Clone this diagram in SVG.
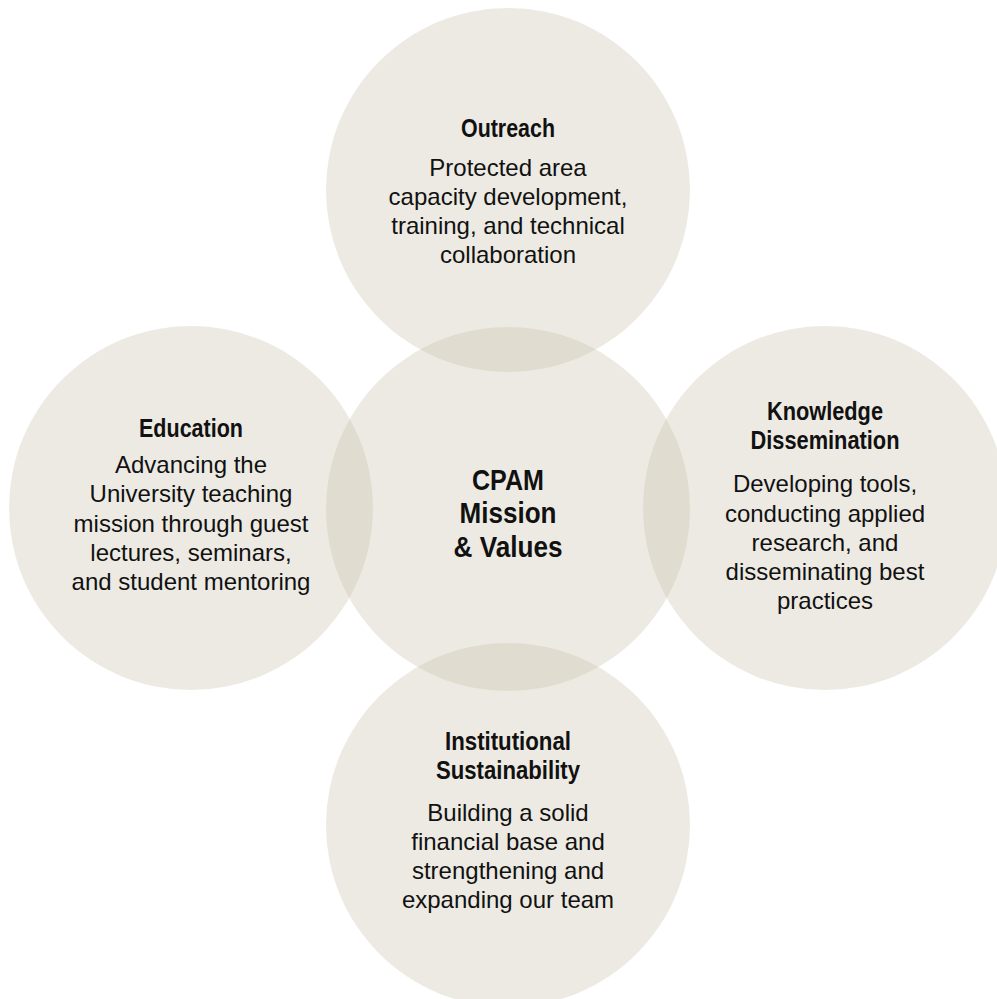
<svg xmlns="http://www.w3.org/2000/svg" width="997" height="999" viewBox="0 0 997 999">
<style>
.c{fill:#C9C0AB;fill-opacity:0.33}
.t{font-family:"Liberation Sans",Arial,sans-serif;font-weight:bold;font-size:26px;fill:#111;text-anchor:middle}
.m{font-family:"Liberation Sans",Arial,sans-serif;font-weight:bold;font-size:30px;fill:#111;text-anchor:middle}
.b{font-family:"Liberation Sans",Arial,sans-serif;font-size:24px;fill:#111;text-anchor:middle}
</style>
<rect width="997" height="999" fill="#fff"/>
<g id="connectors"/>
<g id="outreach">
<circle class="c" cx="508" cy="190" r="182"/>
<text class="t" x="508" y="137" textLength="94" lengthAdjust="spacingAndGlyphs">Outreach</text>
<text class="b" x="508" y="176">Protected area</text>
<text class="b" x="508" y="205">capacity development,</text>
<text class="b" x="508" y="234">training, and technical</text>
<text class="b" x="508" y="263">collaboration</text>
</g>
<g id="education">
<circle class="c" cx="191" cy="508" r="182"/>
<text class="t" x="191" y="437" textLength="104" lengthAdjust="spacingAndGlyphs">Education</text>
<text class="b" x="191" y="473">Advancing the</text>
<text class="b" x="191" y="502">University teaching</text>
<text class="b" x="191" y="532">mission through guest</text>
<text class="b" x="191" y="561">lectures, seminars,</text>
<text class="b" x="191" y="590">and student mentoring</text>
</g>
<g id="knowledge">
<circle class="c" cx="825" cy="508" r="182"/>
<text class="t" x="825" y="420" textLength="116" lengthAdjust="spacingAndGlyphs">Knowledge</text>
<text class="t" x="825" y="449" textLength="149" lengthAdjust="spacingAndGlyphs">Dissemination</text>
<text class="b" x="825" y="492">Developing tools,</text>
<text class="b" x="825" y="522">conducting applied</text>
<text class="b" x="825" y="551">research, and</text>
<text class="b" x="825" y="580">disseminating best</text>
<text class="b" x="825" y="609">practices</text>
</g>
<g id="sustainability">
<circle class="c" cx="508" cy="825" r="182"/>
<text class="t" x="508" y="750" textLength="126" lengthAdjust="spacingAndGlyphs">Institutional</text>
<text class="t" x="508" y="779" textLength="144" lengthAdjust="spacingAndGlyphs">Sustainability</text>
<text class="b" x="508" y="821">Building a solid</text>
<text class="b" x="508" y="850">financial base and</text>
<text class="b" x="508" y="879">strengthening and</text>
<text class="b" x="508" y="908">expanding our team</text>
</g>
<g id="mission">
<circle class="c" cx="508" cy="509" r="182"/>
<text class="m" x="508" y="490" textLength="72" lengthAdjust="spacingAndGlyphs">CPAM</text>
<text class="m" x="508" y="523" textLength="97" lengthAdjust="spacingAndGlyphs">Mission</text>
<text class="m" x="508" y="557" textLength="109" lengthAdjust="spacingAndGlyphs">&amp; Values</text>
</g>
</svg>
